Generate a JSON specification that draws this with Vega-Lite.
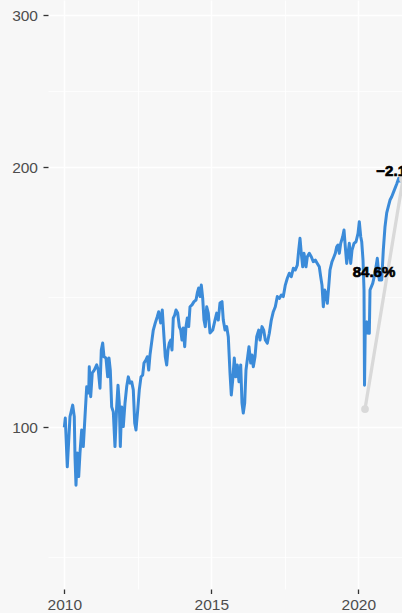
{
  "$schema": "https://vega.github.io/schema/vega-lite/v6.json",
  "width": 354,
  "height": 589,
  "autosize": {"type": "none"},
  "padding": {"left": 48, "top": 0, "right": 0, "bottom": 24},
  "background": "#f7f7f7",
  "config": {
    "view": {"stroke": null, "fill": "#f7f7f7"},
    "font": "Liberation Sans",
    "axis": {
      "domain": false,
      "labelFont": "Liberation Sans",
      "labelFontSize": 15.5,
      "labelColor": "#4d4d4d",
      "tickColor": "#333333",
      "tickWidth": 1.3,
      "tickSize": 4.5,
      "gridColor": "#ffffff",
      "title": null
    }
  },
  "datasets": {
    "series": [
      {"t": 2010.000, "v": 100.0}, {"t": 2010.034, "v": 102.5}, {"t": 2010.102, "v": 90.0}, {"t": 2010.194, "v": 102.9},
      {"t": 2010.286, "v": 106.1}, {"t": 2010.340, "v": 102.9}, {"t": 2010.364, "v": 92.5}, {"t": 2010.398, "v": 85.7},
      {"t": 2010.442, "v": 93.4}, {"t": 2010.490, "v": 87.7}, {"t": 2010.534, "v": 93.4}, {"t": 2010.592, "v": 99.3},
      {"t": 2010.646, "v": 95.0}, {"t": 2010.704, "v": 102.9}, {"t": 2010.762, "v": 111.4}, {"t": 2010.830, "v": 109.6},
      {"t": 2010.850, "v": 117.5}, {"t": 2010.898, "v": 108.5}, {"t": 2010.952, "v": 115.6}, {"t": 2011.020, "v": 116.5},
      {"t": 2011.102, "v": 118.1}, {"t": 2011.156, "v": 116.5}, {"t": 2011.214, "v": 111.0}, {"t": 2011.259, "v": 122.9},
      {"t": 2011.306, "v": 125.2}, {"t": 2011.350, "v": 120.7}, {"t": 2011.418, "v": 120.3}, {"t": 2011.476, "v": 114.4},
      {"t": 2011.520, "v": 120.3}, {"t": 2011.565, "v": 116.5}, {"t": 2011.612, "v": 105.6}, {"t": 2011.667, "v": 104.2},
      {"t": 2011.724, "v": 95.0}, {"t": 2011.782, "v": 105.6}, {"t": 2011.827, "v": 111.9}, {"t": 2011.871, "v": 106.7},
      {"t": 2011.905, "v": 95.0}, {"t": 2011.952, "v": 105.6}, {"t": 2012.007, "v": 100.2}, {"t": 2012.065, "v": 106.7},
      {"t": 2012.122, "v": 111.4}, {"t": 2012.177, "v": 114.4}, {"t": 2012.235, "v": 112.5}, {"t": 2012.293, "v": 112.9},
      {"t": 2012.347, "v": 110.5}, {"t": 2012.395, "v": 101.2}, {"t": 2012.439, "v": 99.3}, {"t": 2012.497, "v": 104.7},
      {"t": 2012.551, "v": 110.5}, {"t": 2012.609, "v": 114.4}, {"t": 2012.667, "v": 115.0}, {"t": 2012.711, "v": 118.7},
      {"t": 2012.779, "v": 119.7}, {"t": 2012.823, "v": 120.7}, {"t": 2012.871, "v": 116.5}, {"t": 2012.915, "v": 121.3},
      {"t": 2012.959, "v": 124.5}, {"t": 2013.027, "v": 129.6}, {"t": 2013.095, "v": 132.1}, {"t": 2013.163, "v": 134.3},
      {"t": 2013.211, "v": 136.1}, {"t": 2013.279, "v": 132.1}, {"t": 2013.333, "v": 136.7}, {"t": 2013.391, "v": 127.3},
      {"t": 2013.435, "v": 120.7}, {"t": 2013.483, "v": 118.1}, {"t": 2013.527, "v": 122.9}, {"t": 2013.571, "v": 125.2},
      {"t": 2013.619, "v": 126.2}, {"t": 2013.663, "v": 122.9}, {"t": 2013.707, "v": 133.8}, {"t": 2013.755, "v": 134.9},
      {"t": 2013.799, "v": 136.7}, {"t": 2013.857, "v": 135.6}, {"t": 2013.912, "v": 130.8}, {"t": 2013.959, "v": 129.6},
      {"t": 2014.003, "v": 126.2}, {"t": 2014.048, "v": 130.3}, {"t": 2014.095, "v": 124.0}, {"t": 2014.139, "v": 130.8},
      {"t": 2014.184, "v": 133.8}, {"t": 2014.231, "v": 130.8}, {"t": 2014.276, "v": 137.9}, {"t": 2014.344, "v": 138.6},
      {"t": 2014.412, "v": 139.8}, {"t": 2014.480, "v": 140.4}, {"t": 2014.524, "v": 143.1}, {"t": 2014.571, "v": 145.0},
      {"t": 2014.616, "v": 141.7}, {"t": 2014.660, "v": 146.1}, {"t": 2014.707, "v": 141.2}, {"t": 2014.752, "v": 133.1},
      {"t": 2014.796, "v": 130.8}, {"t": 2014.844, "v": 137.9}, {"t": 2014.898, "v": 135.6}, {"t": 2014.956, "v": 128.6},
      {"t": 2015.048, "v": 129.6}, {"t": 2015.126, "v": 133.1}, {"t": 2015.184, "v": 135.6}, {"t": 2015.238, "v": 133.1},
      {"t": 2015.296, "v": 139.3}, {"t": 2015.364, "v": 139.8}, {"t": 2015.408, "v": 133.1}, {"t": 2015.466, "v": 129.6},
      {"t": 2015.524, "v": 130.8}, {"t": 2015.578, "v": 127.3}, {"t": 2015.636, "v": 115.6}, {"t": 2015.680, "v": 109.0},
      {"t": 2015.728, "v": 113.4}, {"t": 2015.782, "v": 120.3}, {"t": 2015.830, "v": 114.4}, {"t": 2015.884, "v": 118.1},
      {"t": 2015.942, "v": 112.9}, {"t": 2016.000, "v": 118.1}, {"t": 2016.044, "v": 106.7}, {"t": 2016.088, "v": 103.9},
      {"t": 2016.136, "v": 106.7}, {"t": 2016.180, "v": 116.5}, {"t": 2016.224, "v": 119.7}, {"t": 2016.282, "v": 124.0},
      {"t": 2016.340, "v": 118.7}, {"t": 2016.384, "v": 121.3}, {"t": 2016.429, "v": 117.5}, {"t": 2016.486, "v": 120.7},
      {"t": 2016.544, "v": 127.3}, {"t": 2016.612, "v": 129.6}, {"t": 2016.656, "v": 126.2}, {"t": 2016.724, "v": 130.8},
      {"t": 2016.782, "v": 129.6}, {"t": 2016.837, "v": 126.2}, {"t": 2016.905, "v": 125.1}, {"t": 2016.973, "v": 128.5},
      {"t": 2017.041, "v": 133.1}, {"t": 2017.109, "v": 136.1}, {"t": 2017.177, "v": 137.9}, {"t": 2017.245, "v": 141.7},
      {"t": 2017.313, "v": 141.0}, {"t": 2017.381, "v": 142.3}, {"t": 2017.449, "v": 141.7}, {"t": 2017.517, "v": 146.1},
      {"t": 2017.585, "v": 148.8}, {"t": 2017.653, "v": 150.8}, {"t": 2017.721, "v": 149.4}, {"t": 2017.789, "v": 152.8},
      {"t": 2017.857, "v": 152.1}, {"t": 2017.925, "v": 154.1}, {"t": 2017.973, "v": 160.4}, {"t": 2018.017, "v": 165.5},
      {"t": 2018.061, "v": 159.0}, {"t": 2018.109, "v": 153.4}, {"t": 2018.153, "v": 159.0}, {"t": 2018.221, "v": 153.4},
      {"t": 2018.265, "v": 157.6}, {"t": 2018.333, "v": 159.0}, {"t": 2018.401, "v": 157.6}, {"t": 2018.469, "v": 155.5},
      {"t": 2018.537, "v": 156.2}, {"t": 2018.605, "v": 154.8}, {"t": 2018.673, "v": 153.4}, {"t": 2018.721, "v": 149.4},
      {"t": 2018.765, "v": 146.1}, {"t": 2018.810, "v": 137.9}, {"t": 2018.857, "v": 144.2}, {"t": 2018.901, "v": 142.9},
      {"t": 2018.946, "v": 139.2}, {"t": 2018.993, "v": 145.5}, {"t": 2019.037, "v": 152.1}, {"t": 2019.105, "v": 155.5},
      {"t": 2019.173, "v": 157.6}, {"t": 2019.218, "v": 159.0}, {"t": 2019.265, "v": 161.8}, {"t": 2019.310, "v": 162.6},
      {"t": 2019.354, "v": 159.0}, {"t": 2019.401, "v": 163.3}, {"t": 2019.469, "v": 166.2}, {"t": 2019.514, "v": 169.2},
      {"t": 2019.558, "v": 161.8}, {"t": 2019.605, "v": 154.8}, {"t": 2019.650, "v": 159.0}, {"t": 2019.694, "v": 163.3},
      {"t": 2019.741, "v": 154.8}, {"t": 2019.786, "v": 160.4}, {"t": 2019.854, "v": 163.3}, {"t": 2019.922, "v": 164.0},
      {"t": 2019.990, "v": 167.7}, {"t": 2020.034, "v": 173.0}, {"t": 2020.082, "v": 166.2}, {"t": 2020.116, "v": 164.0},
      {"t": 2020.160, "v": 156.2}, {"t": 2020.194, "v": 144.2}, {"t": 2020.211, "v": 111.9}, {"t": 2020.238, "v": 132.0},
      {"t": 2020.286, "v": 132.5}, {"t": 2020.313, "v": 128.6}, {"t": 2020.374, "v": 128.5}, {"t": 2020.398, "v": 144.2},
      {"t": 2020.490, "v": 146.8}, {"t": 2020.568, "v": 150.8}, {"t": 2020.646, "v": 156.9}, {"t": 2020.714, "v": 148.1},
      {"t": 2020.796, "v": 148.1}, {"t": 2020.850, "v": 160.4}, {"t": 2020.908, "v": 170.7}, {"t": 2020.966, "v": 177.1},
      {"t": 2021.020, "v": 180.1}, {"t": 2021.078, "v": 183.3}, {"t": 2021.136, "v": 184.9}, {"t": 2021.214, "v": 187.8},
      {"t": 2021.306, "v": 191.3}, {"t": 2021.374, "v": 194.2}, {"t": 2021.418, "v": 192.8}, {"t": 2021.486, "v": 193.5},
      {"t": 2021.520, "v": 193.8}
    ],
    "rebound": [
      {"t": 2020.228, "v": 105.0},
      {"t": 2021.520, "v": 193.8}
    ],
    "labels": [
      {"t": 2020.534, "v": 151.1, "label": "84.6%"},
      {"t": 2021.344, "v": 198.1, "label": "−2.1%"}
    ]
  },
  "encoding": {
    "x": {
      "field": "t",
      "type": "quantitative",
      "scale": {"domain": [2009.446, 2021.486], "nice": false, "zero": false},
      "axis": {
        "values": [2010, 2012.5, 2015, 2017.5, 2020],
        "labelExpr": "datum.value % 5 == 0 ? format(datum.value, 'd') : ''",
        "labelPadding": 3.7,
        "gridWidth": {"condition": {"test": "datum.value % 5 == 0", "value": 1.6}, "value": 0.8},
        "tickOpacity": {"condition": {"test": "datum.value % 5 == 0", "value": 1}, "value": 0}
      }
    },
    "y": {
      "field": "v",
      "type": "quantitative",
      "scale": {"type": "log", "domain": [64.99, 312.4], "nice": false, "zero": false},
      "axis": {
        "values": [70.71, 100, 141.42, 200, 244.95, 300],
        "labelExpr": "datum.value % 100 == 0 ? format(datum.value, 'd') : ''",
        "labelPadding": 5.5,
        "tickSize": 5,
        "gridWidth": {"condition": {"test": "datum.value % 100 == 0", "value": 1.4}, "value": 0.7},
        "tickOpacity": {"condition": {"test": "datum.value % 100 == 0", "value": 1}, "value": 0}
      }
    }
  },
  "layer": [
    {
      "data": {"name": "series"},
      "mark": {"type": "line", "color": "#3b8bd9", "strokeWidth": 3, "clip": true, "strokeJoin": "round"}
    },
    {
      "data": {"name": "rebound"},
      "mark": {"type": "line", "color": "#d9d9d9", "strokeWidth": 3.3, "clip": true}
    },
    {
      "data": {"name": "rebound"},
      "mark": {"type": "point", "filled": true, "color": "#d9d9d9", "opacity": 1, "size": 60, "clip": true}
    },
    {
      "data": {"name": "labels"},
      "mark": {"type": "text", "font": "Liberation Sans", "fontWeight": "bold", "fontSize": 15, "color": "#000000", "stroke": "#000000", "strokeWidth": 0.7, "align": "center", "baseline": "middle", "clip": true},
      "encoding": {"text": {"field": "label"}}
    }
  ]
}
